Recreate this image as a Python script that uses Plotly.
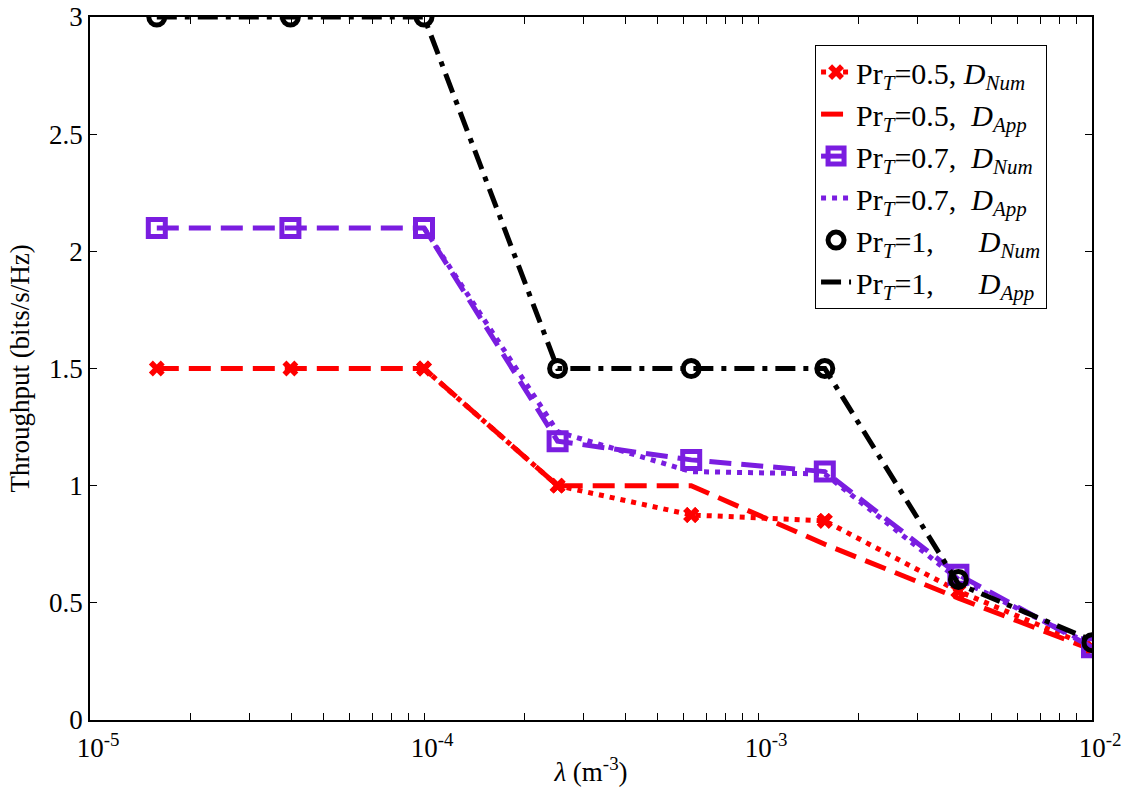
import plotly.graph_objects as go

lam = [10**-4.8, 10**-4.4, 1e-4, 10**-3.6, 10**-3.2, 10**-2.8, 10**-2.4, 1e-2]

pr05_num = [1.5, 1.5, 1.5, 1.0, 0.875, 0.85, 0.55, 0.31]
pr05_app = [1.5, 1.5, 1.5, 1.0, 1.0, 0.75, 0.52, 0.30]
pr07_num = [2.1, 2.1, 2.1, 1.19, 1.11, 1.06, 0.62, 0.31]
pr07_app = [2.1, 2.1, 2.1, 1.23, 1.06, 1.05, 0.60, 0.32]
pr1_num = [3.0, 3.0, 3.0, 1.5, 1.5, 1.5, 0.60, 0.33]
pr1_app = [3.0, 3.0, 3.0, 1.5, 1.5, 1.5, 0.58, 0.34]

names = [
    "Pr<sub><i>T</i></sub>=0.5, <i>D</i><sub><i>Num</i></sub>",
    "Pr<sub><i>T</i></sub>=0.5,  <i>D</i><sub><i>App</i></sub>",
    "Pr<sub><i>T</i></sub>=0.7,  <i>D</i><sub><i>Num</i></sub>",
    "Pr<sub><i>T</i></sub>=0.7,  <i>D</i><sub><i>App</i></sub>",
    "Pr<sub><i>T</i></sub>=1,&nbsp;&nbsp;&nbsp;&nbsp;&nbsp; <i>D</i><sub><i>Num</i></sub>",
    "Pr<sub><i>T</i></sub>=1,&nbsp;&nbsp;&nbsp;&nbsp;&nbsp; <i>D</i><sub><i>App</i></sub>",
]

RED = "#FF0000"
PURPLE = "#7A1DE0"
BLACK = "#000000"
LW = 5
DASH = "22px,10px"
DOT = "5px,6px"
DASHDOT = "20px,8px,5px,8px"

fig = go.Figure()
fig.add_trace(go.Scatter(x=lam, y=pr05_num, mode="markers", showlegend=False,
                         marker=dict(symbol="x", size=14, color=RED)))
fig.add_trace(go.Scatter(x=lam[2:], y=pr05_num[2:], name=names[0], mode="lines+markers",
                         line=dict(color=RED, width=LW, dash=DOT),
                         marker=dict(symbol="x", size=14, color=RED)))
fig.add_trace(go.Scatter(x=lam, y=pr05_app, name=names[1], mode="lines",
                         line=dict(color=RED, width=LW, dash=DASH)))
fig.add_trace(go.Scatter(x=lam, y=pr07_num, name=names[2], mode="lines+markers",
                         line=dict(color=PURPLE, width=LW, dash=DASH),
                         marker=dict(symbol="square-open", size=17, color=PURPLE,
                                     line=dict(width=5, color=PURPLE))))
fig.add_trace(go.Scatter(x=lam[2:], y=pr07_app[2:], name=names[3], mode="lines",
                         line=dict(color=PURPLE, width=LW, dash=DOT)))
fig.add_trace(go.Scatter(x=lam, y=pr1_num, name=names[4], mode="markers",
                         marker=dict(symbol="circle-open", size=16, color=BLACK,
                                     line=dict(width=5, color=BLACK))))
fig.add_trace(go.Scatter(x=lam, y=pr1_app, name=names[5], mode="lines",
                         line=dict(color=BLACK, width=LW, dash=DASHDOT)))

tickvals = []
ticktext = []
for e in (-5, -4, -3):
    for m in range(1, 10):
        tickvals.append(m * 10**e)
        ticktext.append(f"10<sup>{e}</sup>" if m == 1 else "")
tickvals.append(1e-2)
ticktext.append("10<sup>-2</sup>")

font = "Liberation Serif, Times New Roman, serif"

fig.update_layout(
    width=1122, height=796,
    margin=dict(l=90, r=30, t=17, b=76),
    paper_bgcolor="white", plot_bgcolor="white",
    font=dict(family=font, size=26, color="black"),
    showlegend=True,
    legend=dict(x=0.7236, y=0.96, xanchor="left", yanchor="top",
                bordercolor="black", borderwidth=1, bgcolor="white",
                font=dict(size=30, family=font), tracegroupgap=0),
    xaxis=dict(type="log", range=[-5, -2], tickvals=tickvals, ticktext=ticktext,
               ticks="inside", ticklen=7, tickcolor="black", showgrid=False,
               showline=True, linecolor="black", linewidth=1.5, mirror="allticks",
               zeroline=False, automargin=False, tickfont=dict(size=27),
               ticklabelshift=8, ticklabelstandoff=3,
               title=dict(text="<i>λ</i> (m<sup>-3</sup>)", font=dict(size=27), standoff=0)),
    yaxis=dict(range=[0, 3], tickvals=[0, 0.5, 1, 1.5, 2, 2.5, 3],
               ticktext=["0", "0.5", "1", "1.5", "2", "2.5", "3"],
               ticks="inside", ticklen=7, tickcolor="black", showgrid=False,
               showline=True, linecolor="black", linewidth=1.5, mirror="allticks",
               zeroline=False, automargin=False, tickfont=dict(size=27),
               title=dict(text="Throughput (bits/s/Hz)", font=dict(size=27), standoff=12)),
)

fig.write_html("out.html", config={"displayModeBar": False},
               post_script="document.body.style.margin='0';")
